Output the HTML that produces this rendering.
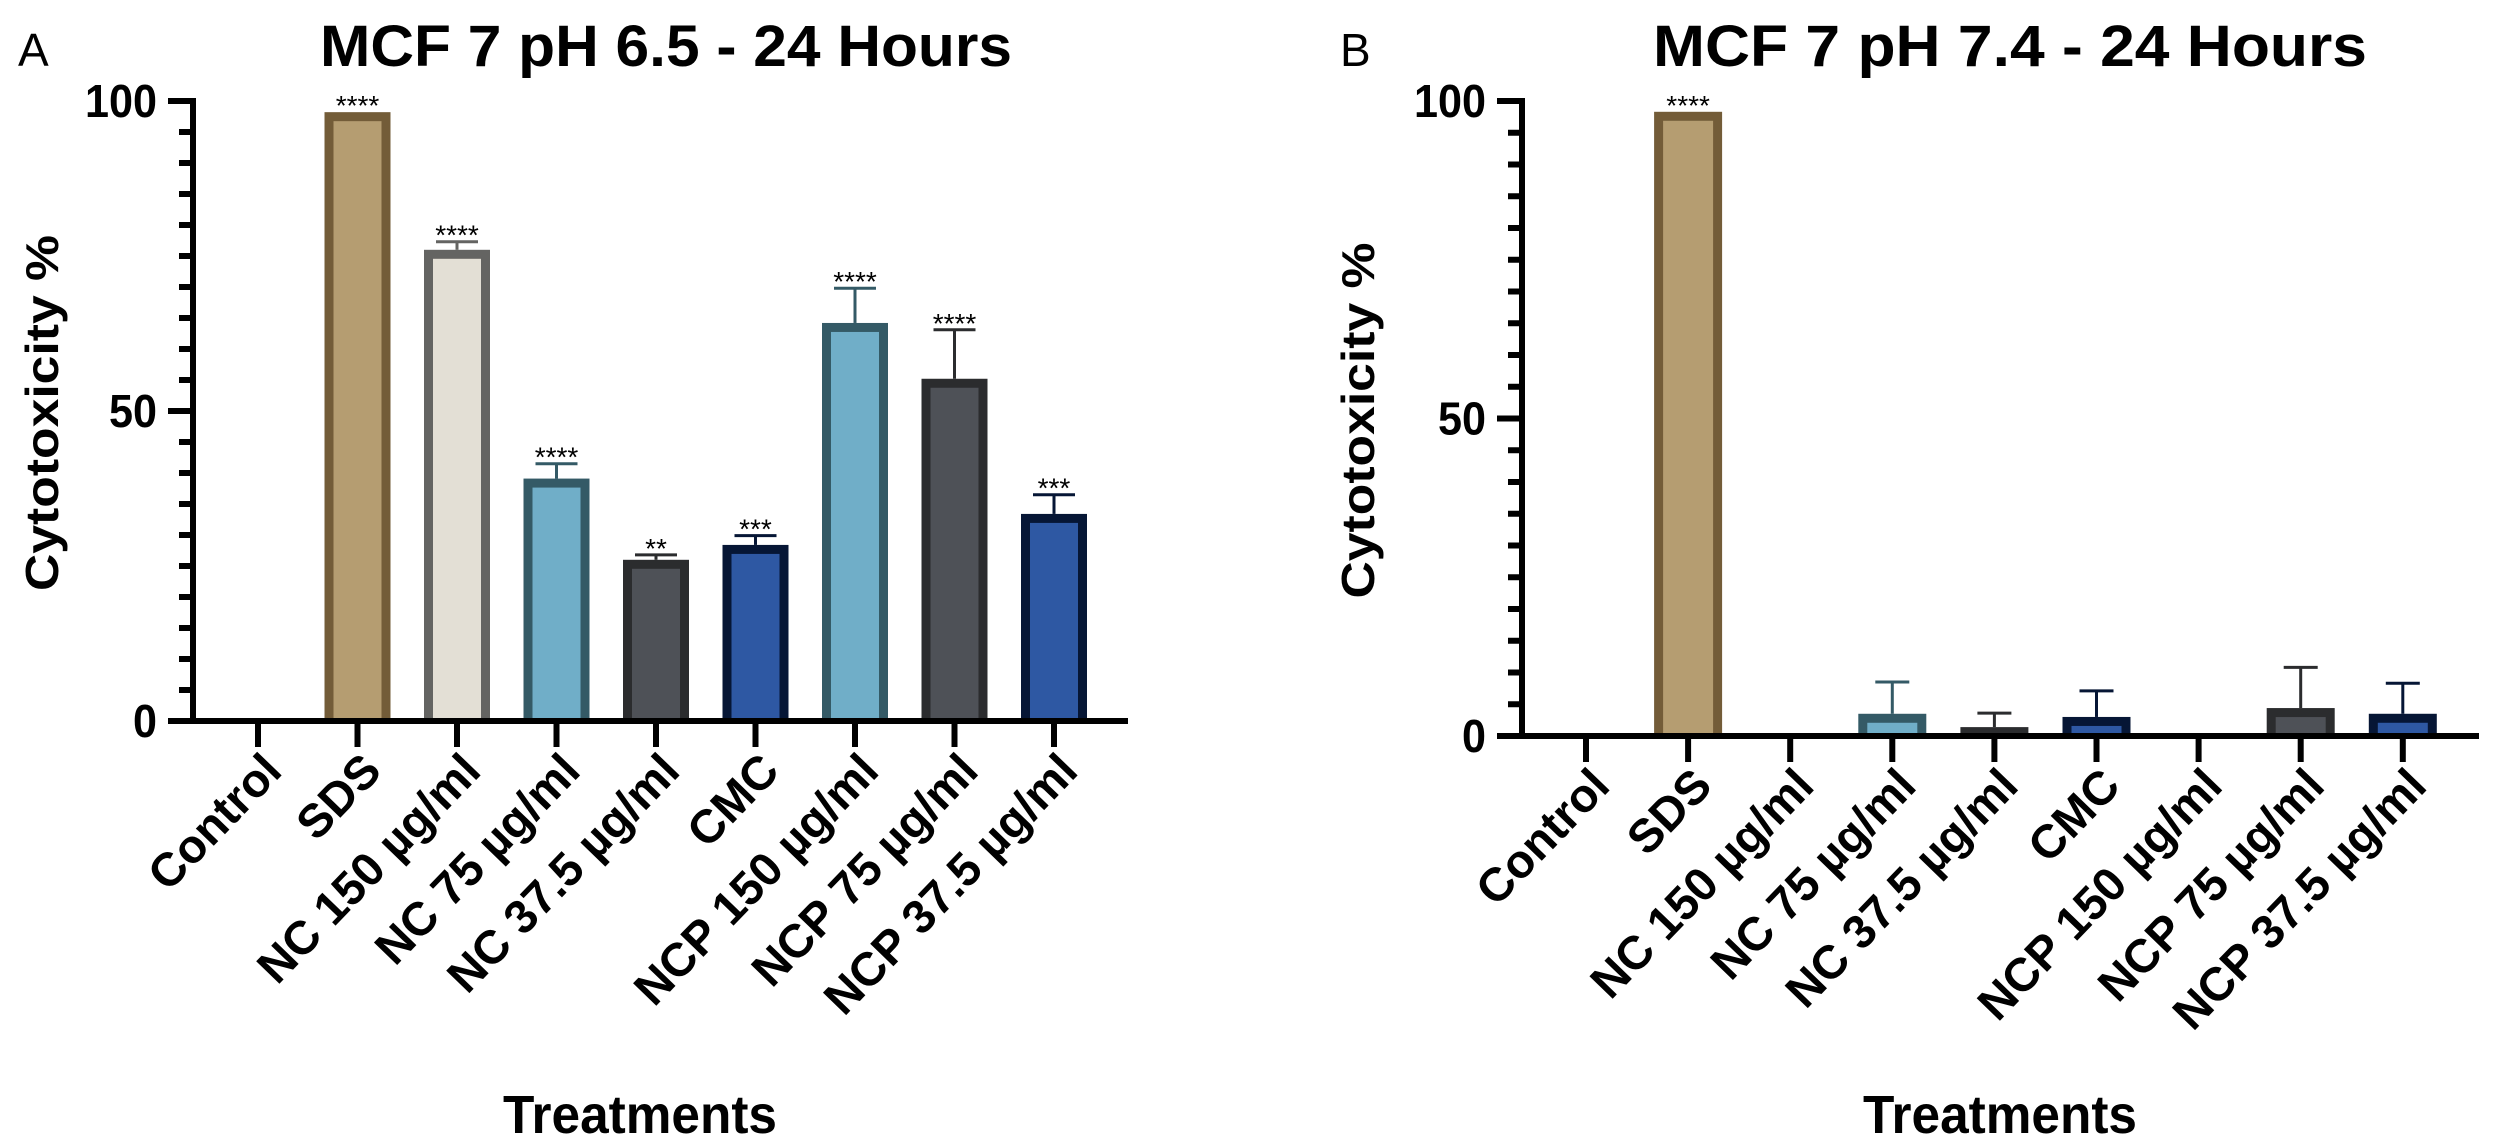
<!DOCTYPE html>
<html><head><meta charset="utf-8"><style>
html,body{margin:0;padding:0;background:#fff;}
svg{display:block;font-family:"Liberation Sans",Arial,sans-serif;}
</style></head><body>
<svg id="chart" width="2495" height="1148" viewBox="0 0 2495 1148" xmlns="http://www.w3.org/2000/svg">
<rect width="2495" height="1148" fill="#fff"/>
</svg>
<script>
const categories = ["Control","SDS","NC 150 µg/ml","NC 75 µg/ml","NC 37.5 µg/ml","CMC","NCP 150 µg/ml","NCP 75 µg/ml","NCP 37.5 µg/ml"];
const valuesA = [0, 98.2, 76, 39.1, 26, 28.4, 64.2, 55.2, 33.4];
const errorsA = [0, 0, 1.3, 2.4, 0.8, 1.5, 5.6, 7.9, 3.1];
const sigA = ["", "****", "****", "****", "**", "***", "****", "****", "***"];
const valuesB = [0, 98.3, 0, 3.5, 1.4, 3.0, 0, 4.4, 3.5];
const errorsB = [0, 0, 0, 5.0, 2.2, 4.1, 0, 6.4, 4.8];
const sigB = ["", "****", "", "", "", "", "", "", ""];
const yTicks = [0, 50, 100];
const fills = ["#ffffff","#b59d71","#e3dfd5","#70aec8","#4e5157","#2e58a3","#70aec8","#4e5157","#2e58a3"];
const borders = ["#000000","#735c38","#646462","#345a66","#2b2c2e","#061635","#345a66","#2b2c2e","#061635"];

const NS = "http://www.w3.org/2000/svg";
const svg = document.getElementById("chart");
function mk(tag, attrs, parent) {
  const e = document.createElementNS(NS, tag);
  for (const k in attrs) e.setAttribute(k, attrs[k]);
  (parent || svg).appendChild(e);
  return e;
}

const panels = [
  {key:"a", letter:"A", letterX:18, title:"MCF 7 pH 6.5 - 24 Hours", titleX:320, titleW:692,
   axisX:193, y0:721, y100:101, x0:258, dx:99.5, xEnd:1128, barW:66, capW:42,
   ytitleX:58, xtitleX:640, values:valuesA, errors:errorsA, sig:sigA},
  {key:"b", letter:"B", letterX:1340, title:"MCF 7 pH 7.4 - 24 Hours", titleX:1653, titleW:714,
   axisX:1522, y0:736, y100:101, x0:1586, dx:102.1, xEnd:2479, barW:68, capW:34,
   ytitleX:1374, xtitleX:2000, values:valuesB, errors:errorsB, sig:sigB}
];

panels.forEach(p => {
  const g = mk("g", {});
  
  
  const yS = v => p.y0 - (v / 100) * (p.y0 - p.y100);
  const xS = i => p.x0 + i * p.dx;

  const lt = mk("text", {x:p.letterX, y:66, "font-size":46, fill:"#000"}, g);
  lt.textContent = p.letter;
  
  

  const tt = mk("text", {x:p.titleX, y:66, "font-size":58, "font-weight":"bold", fill:"#000", textLength:p.titleW, lengthAdjust:"spacingAndGlyphs"}, g);
  tt.textContent = p.title;
  
  

  p.values.forEach((v, i) => {
    if (v <= 0) return;
    const cx = xS(i), top = yS(v), h = p.y0 - top;
    const bw = 9;
    const r = mk("rect", {x:cx - p.barW/2, y:top, width:p.barW, height:h, fill:borders[i]}, g);
    
    
    if (h > bw) {
      const inn = mk("rect", {x:cx - p.barW/2 + bw, y:top + bw, width:p.barW - 2*bw, height:h - bw, fill:fills[i]}, g);
      
      
    }
    let markTop = top;
    const e = p.errors[i];
    if (e > 0) {
      const et = yS(v + e);
      const ln = mk("line", {x1:cx, x2:cx, y1:top, y2:et, stroke:borders[i], "stroke-width":3}, g);
      
      
      const cap = mk("line", {x1:cx - p.capW/2, x2:cx + p.capW/2, y1:et, y2:et, stroke:borders[i], "stroke-width":3}, g);
      
      
      markTop = et;
    }
    if (p.sig[i]) {
      const s = mk("text", {x:cx, y:markTop + 3, "font-size":28, "text-anchor":"middle", fill:"#000"}, g);
      s.textContent = p.sig[i];
      
      
    }
  });

  const ya = mk("line", {x1:p.axisX, x2:p.axisX, y1:yS(100) - 3, y2:p.y0, stroke:"#000", "stroke-width":6}, g);
  
  
  for (let v = 0; v <= 100; v += 5) {
    const major = v % 50 === 0;
    const t = mk("line", {x1:p.axisX - (major ? 25 : 14), x2:p.axisX, y1:yS(v), y2:yS(v), stroke:"#000", "stroke-width":6}, g);
    
    
  }
  yTicks.forEach(v => {
    const t = mk("text", {x:p.axisX - 36, y:yS(v) + 16, "font-size":46, "font-weight":"bold", "text-anchor":"end", fill:"#000", textLength: String(v).length * 24, lengthAdjust:"spacingAndGlyphs"}, g);
    t.textContent = v;
    
    
  });
  const yt = mk("text", {x:0, y:0, "font-size":46, "font-weight":"bold", "text-anchor":"middle", fill:"#000", textLength:356, lengthAdjust:"spacingAndGlyphs", transform:`translate(${p.ytitleX},${(yS(100)+p.y0)/2 + 2}) rotate(-90)`}, g);
  yt.textContent = "Cytotoxicity %";
  
  

  const xa = mk("line", {x1:p.axisX - 25, x2:p.xEnd, y1:p.y0, y2:p.y0, stroke:"#000", "stroke-width":6}, g);
  
  
  categories.forEach((c, i) => {
    const cx = xS(i);
    const t = mk("line", {x1:cx, x2:cx, y1:p.y0, y2:p.y0 + 26, stroke:"#000", "stroke-width":6}, g);
    
    
    const l = mk("text", {x:0, y:0, "font-size":47, "font-weight":"bold", "text-anchor":"end", fill:"#000", transform:`translate(${cx + 26},${p.y0 + 52}) rotate(-46)`}, g);
    l.textContent = c;
    
    
  });
  const xt = mk("text", {x:p.xtitleX, y:1133, "font-size":54, "font-weight":"bold", "text-anchor":"middle", fill:"#000", textLength:274, lengthAdjust:"spacingAndGlyphs"}, g);
  xt.textContent = "Treatments";
  
  
});
</script>
</body></html>
